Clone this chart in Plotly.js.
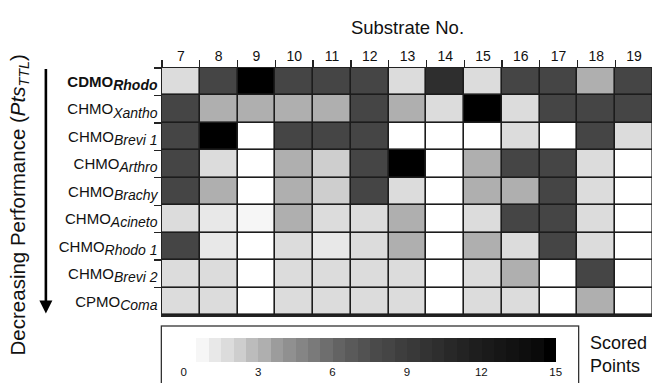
<!DOCTYPE html>
<html>
<head>
<meta charset="utf-8">
<script src="https://cdn.plot.ly/plotly-3.0.1.min.js"></script>
<style>
html,body{margin:0;padding:0;overflow:hidden;background:#fff;}
#chart{width:656px;height:400px;}
</style>
</head>
<body>
<div id="chart"></div>
<script>
// Column categories (substrate numbers)
const substrates = ['7','8','9','10','11','12','13','14','15','16','17','18','19'];
// Row categories (enzymes, top to bottom)
const SUB = '<span style="font-size:14px">';
const enzymes = [
  '<b>CDMO<sub>' + SUB + '<i>Rhodo</i></span></sub></b>',
  'CHMO<sub>' + SUB + '<i>Xantho</i></span></sub>',
  'CHMO<sub>' + SUB + '<i>Brevi 1</i></span></sub>',
  'CHMO<sub>' + SUB + '<i>Arthro</i></span></sub>',
  'CHMO<sub>' + SUB + '<i>Brachy</i></span></sub>',
  'CHMO<sub>' + SUB + '<i>Acineto</i></span></sub>',
  'CHMO<sub>' + SUB + '<i>Rhodo 1</i></span></sub>',
  'CHMO<sub>' + SUB + '<i>Brevi 2</i></span></sub>',
  'CPMO<sub>' + SUB + '<i>Coma</i></span></sub>'
];
// Scored points per enzyme (estimated from the grey level of each cell)
const rowCDMORhodo  = [1.75, 8.25, 14.75, 8.25, 8.25, 8.25, 1.75, 10.25, 1.75, 8.25, 8.25, 3.25, 8.25];
const rowXantho     = [8.25, 3.25, 3.25, 3.25, 3.25, 8.25, 3.25, 1.75, 14.75, 1.75, 8.25, 8.25, 8.25];
const rowBrevi1     = [8.25, 14.75, 0, 8.25, 8.25, 8.25, 0, 0, 0, 1.75, 0, 8.25, 1.75];
const rowArthro     = [8.25, 1.75, 0, 3.25, 2.25, 8.25, 14.75, 0, 3.25, 8.25, 8.25, 1.75, 0];
const rowBrachy     = [8.25, 3.25, 0, 3.25, 2.25, 8.25, 1.75, 0, 3.25, 3.25, 8.25, 1.75, 0];
const rowAcineto    = [1.75, 1.25, 0.75, 3.25, 1.75, 1.75, 3.25, 0, 1.75, 8.25, 8.25, 1.75, 0];
const rowRhodo1     = [8.25, 1.25, 0, 1.75, 1.25, 1.75, 3.25, 0, 3.25, 1.75, 8.25, 1.75, 0];
const rowBrevi2     = [1.75, 1.75, 0, 1.75, 1.75, 1.75, 1.75, 0, 1.75, 3.25, 0, 8.25, 0];
const rowComa       = [1.75, 1.75, 0, 1.75, 1.75, 1.75, 1.75, 0, 1.75, 1.75, 0, 3.25, 0];
// Colour bar tick labels
const cbTicks = [0, 3, 6, 9, 12, 15];
// Grey steps of the legend (30 half-point steps from 0 to 15)
const greySteps = ['#ffffff','#f6f6f6','#e8e8e8','#dcdcdc','#cecece','#bcbcbc','#afafaf','#9c9c9c','#909090','#858585',
                   '#7a7a7a','#6e6e6e','#636363','#5a5a5a','#525252','#4a4a4a','#454545','#3e3e3e','#393939','#333333',
                   '#2e2e2e','#282828','#232323','#1e1e1e','#1a1a1a','#161616','#121212','#0e0e0e','#0a0a0a','#000000'];

const z = [rowCDMORhodo, rowXantho, rowBrevi1, rowArthro, rowBrachy, rowAcineto, rowRhodo1, rowBrevi2, rowComa];

const colorscale = [];
greySteps.forEach((c, k) => {
  colorscale.push([k / greySteps.length, c]);
  colorscale.push([(k + 1) / greySteps.length, c]);
});

const FONT = 'Arial, Liberation Sans, Helvetica, sans-serif';

const trace = {
  type: 'heatmap',
  x: substrates,
  y: enzymes,
  z: z,
  zmin: 0,
  zmax: 15,
  colorscale: colorscale,
  xgap: 1.6,
  ygap: 1.6,
  hoverinfo: 'skip',
  colorbar: {
    orientation: 'h',
    thickness: 24,
    thicknessmode: 'pixels',
    len: 416,
    lenmode: 'pixels',
    x: 0.423,
    xanchor: 'center',
    y: -0.044,
    yanchor: 'top',
    xpad: 22,
    ypad: 12,
    borderwidth: 1.3,
    bordercolor: '#333333',
    outlinewidth: 0,
    ticks: '',
    tickmode: 'array',
    tickvals: cbTicks,
    ticktext: cbTicks.map(String),
    tickfont: {family: FONT, size: 11.5, color: '#111'}
  }
};

const layout = {
  width: 656,
  height: 400,
  margin: {l: 162, r: 3, t: 68, b: 85.4},
  paper_bgcolor: '#ffffff',
  plot_bgcolor: '#1c1c1c',
  font: {family: FONT, color: '#111'},
  xaxis: {
    type: 'category',
    side: 'top',
    tickson: 'boundaries',
    ticks: 'outside',
    ticklen: 7,
    tickwidth: 1.3,
    tickcolor: '#222',
    showline: true,
    linecolor: '#222',
    linewidth: 1.5,
    mirror: true,
    showgrid: false,
    zeroline: false,
    tickfont: {family: FONT, size: 14, color: '#111'},
    title: {text: 'Substrate No.', font: {family: FONT, size: 18.5, color: '#111'}, standoff: 8}
  },
  yaxis: {
    type: 'category',
    autorange: 'reversed',
    tickson: 'boundaries',
    ticks: 'outside',
    ticklen: 7,
    tickwidth: 1.3,
    tickcolor: '#222',
    showline: true,
    linecolor: '#222',
    linewidth: 1.5,
    mirror: true,
    showgrid: false,
    zeroline: false,
    tickfont: {family: FONT, size: 15, color: '#111'}
  },
  annotations: [
    {
      xref: 'paper', yref: 'paper',
      x: -0.291, y: 0.444,
      xanchor: 'center', yanchor: 'middle',
      textangle: -90,
      showarrow: false,
      text: 'Decreasing Performance (<i>Pts</i><sub><i>TTL</i></sub>)',
      font: {family: FONT, size: 20.5, color: '#111'}
    },
    {
      xref: 'paper', yref: 'paper',
      x: -0.2365, y: 0.0065,
      ax: 0, ay: -246,
      axref: 'pixel', ayref: 'pixel',
      text: '',
      showarrow: true,
      arrowhead: 2,
      arrowsize: 1.0,
      arrowwidth: 2.6,
      arrowcolor: '#000'
    },
    {
      xref: 'paper', yref: 'paper',
      x: 0.868, y: -0.16,
      xanchor: 'left', yanchor: 'middle',
      align: 'left',
      showarrow: false,
      text: 'Scored<br>Points',
      font: {family: FONT, size: 18, color: '#111'}
    }
  ]
};

Plotly.newPlot('chart', [trace], layout, {displayModeBar: false, staticPlot: true});
</script>
</body>
</html>
